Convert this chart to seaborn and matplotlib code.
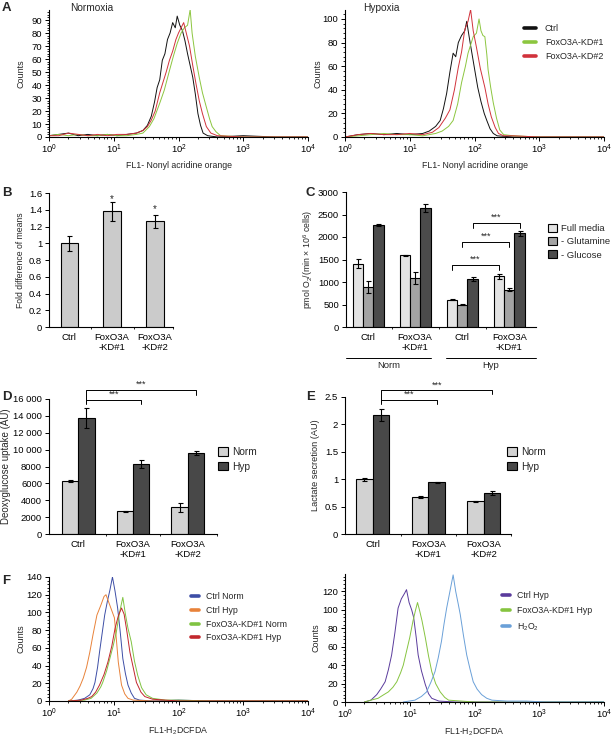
import numpy as np
import pandas as pd
import matplotlib
matplotlib.use('Agg')
import matplotlib.pyplot as plt
from matplotlib.lines import Line2D
from matplotlib.patches import Patch
from matplotlib.container import BarContainer
from matplotlib.ticker import (MultipleLocator, LogLocator, NullFormatter, FixedLocator, FuncFormatter)
import seaborn as sns

# ---------- A: nonyl acridine orange histograms (log10 FL1, counts) ----------
a_norm_ctrl_lx = [0.0, 0.15, 0.3, 0.45, 0.6, 0.75, 0.9, 1.05, 1.2, 1.35, 1.45, 1.52, 1.58, 1.63, 1.67, 1.71, 1.75, 1.79,
                  1.83, 1.87, 1.91, 1.95, 1.98, 2.02, 2.06, 2.10, 2.14, 2.18, 2.22, 2.26, 2.30, 2.34, 2.38, 2.45,
                  2.6, 3.0, 3.5, 4.0]
a_norm_ctrl_ct = [1, 2, 3, 1, 2, 1, 2, 1, 2, 3, 5, 9, 16, 27, 38, 44, 59, 64,
                  75, 80, 88, 84, 93, 86, 82, 74, 64, 55, 46, 33, 18, 9, 3, 1,
                  0, 1, 0, 0]
a_norm_kd1_lx = [0.0, 0.15, 0.3, 0.45, 0.6, 0.75, 0.9, 1.05, 1.2, 1.35, 1.45, 1.55, 1.62, 1.71, 1.78, 1.86, 1.92, 1.98,
                 2.04, 2.09, 2.14, 2.18, 2.21, 2.26, 2.32, 2.37, 2.43, 2.48, 2.52, 2.58, 2.65, 3.0, 4.0]
a_norm_kd1_ct = [1, 2, 1, 2, 1, 1, 2, 1, 1, 2, 3, 8, 14, 26, 36, 51, 62, 72,
                 80, 84, 86, 98, 80, 62, 46, 34, 23, 14, 8, 4, 1, 0, 0]
a_norm_kd2_lx = [0.0, 0.15, 0.3, 0.45, 0.6, 0.75, 0.9, 1.05, 1.2, 1.35, 1.45, 1.52, 1.58, 1.64, 1.71, 1.76, 1.81, 1.86,
                 1.91, 1.96, 2.00, 2.04, 2.08, 2.12, 2.17, 2.22, 2.27, 2.32, 2.37, 2.43, 2.5, 2.6, 3.0, 4.0]
a_norm_kd2_ct = [1, 1, 3, 2, 1, 2, 1, 2, 2, 3, 5, 8, 13, 20, 34, 42, 50, 59,
                 66, 75, 80, 84, 88, 80, 70, 55, 41, 28, 18, 8, 3, 1, 0, 0]

a_hyp_ctrl_lx = [0.0, 0.2, 0.4, 0.6, 0.8, 1.0, 1.2, 1.3, 1.4, 1.47, 1.52, 1.57, 1.62, 1.67, 1.71, 1.75, 1.8, 1.85,
                 1.88, 1.92, 1.96, 2.0, 2.05, 2.1, 2.15, 2.19, 2.24, 2.29, 2.35, 2.6, 3.0, 4.0]
a_hyp_ctrl_ct = [0, 2, 3, 2, 3, 2, 3, 5, 9, 14, 24, 37, 55, 71, 68, 80, 86, 90,
                 98, 84, 71, 58, 42, 30, 20, 14, 7, 3, 1, 0, 0, 0]
a_hyp_kd1_lx = [0.0, 0.2, 0.4, 0.6, 0.8, 1.0, 1.2, 1.4, 1.5, 1.6, 1.67, 1.74, 1.8, 1.86, 1.9, 1.98, 2.03, 2.07,
                2.1, 2.13, 2.16, 2.19, 2.21, 2.25, 2.29, 2.34, 2.39, 2.45, 2.6, 3.0, 4.0]
a_hyp_kd1_ct = [0, 1, 2, 3, 2, 2, 1, 3, 5, 9, 14, 28, 46, 60, 71, 85, 88, 100,
                90, 86, 85, 70, 57, 42, 29, 16, 6, 2, 1, 0, 0]
a_hyp_kd2_lx = [0.0, 0.2, 0.4, 0.6, 0.8, 1.0, 1.2, 1.35, 1.45, 1.55, 1.62, 1.69, 1.75, 1.8, 1.85, 1.9, 1.94, 1.98,
                2.03, 2.09, 2.16, 2.21, 2.26, 2.32, 2.37, 2.45, 2.6, 3.0, 4.0]
a_hyp_kd2_ct = [0, 2, 3, 2, 2, 3, 2, 4, 8, 16, 23, 40, 59, 72, 91, 98, 108, 90,
                76, 58, 42, 28, 17, 8, 3, 1, 1, 0, 0]
a_labels = ['Ctrl', 'FoxO3A-KD#1', 'FoxO3A-KD#2']
a_colors = ['#111111', '#8cc63f', '#d1323b']

# ---------- B: fold difference of means ----------
b_groups = ['Ctrl', 'FoxO3A\n-KD#1', 'FoxO3A\n-KD#2']
b_mean = [1.0, 1.38, 1.26]
b_err = [0.09, 0.11, 0.08]
b_star_y = [None, 1.53, 1.41]

# ---------- C: oxygen consumption ----------
c_groups = ['Ctrl', 'FoxO3A\n-KD#1', 'Ctrl', 'FoxO3A\n-KD#1']
c_cond = ['Norm', 'Norm', 'Hyp', 'Hyp']
c_media = ['Full media', '- Glutamine', '- Glucose']
c_full = [1404, 1596, 610, 1125]
c_full_err = [100, 15, 15, 60]
c_gln = [890, 1088, 500, 830]
c_gln_err = [140, 140, 10, 40]
c_glc = [2265, 2654, 1066, 2080]
c_glc_err = [20, 90, 40, 50]
c_colors = ['#e3e3e3', '#a3a3a3', '#4b4b4b']
# significance brackets: x from, x to (bar slots), height
c_br_x0 = [1.78, 2.0, 2.22]
c_br_x1 = [2.78, 3.0, 3.22]
c_br_y = [1382, 1897, 2316]

# ---------- D / E ----------
de_groups = ['Ctrl', 'FoxO3A\n-KD#1', 'FoxO3A\n-KD#2']
de_conds = ['Norm', 'Hyp']
de_colors = ['#d2d2d2', '#484848']
d_norm = [6245, 2690, 3160]
d_norm_err = [100, 30, 550]
d_hyp = [13750, 8300, 9600]
d_hyp_err = [1200, 450, 200]
e_norm = [1.00, 0.675, 0.596]
e_norm_err = [0.03, 0.02, 0.01]
e_hyp = [2.17, 0.94, 0.75]
e_hyp_err = [0.11, 0.01, 0.03]

# ---------- F: H2DCFDA histograms ----------
f1_cn_lx = [0.3, 0.45, 0.55, 0.63, 0.68, 0.71, 0.75, 0.78, 0.82, 0.86, 0.9, 0.94, 0.98, 1.02, 1.06, 1.1, 1.14, 1.18,
            1.22, 1.27, 1.32, 1.4, 1.6, 2.0, 2.5, 3.0, 4.0]
f1_cn_ct = [0, 1, 3, 7, 14, 21, 38, 55, 76, 97, 112, 125, 140, 124, 105, 78, 48, 31,
            18, 9, 3, 1, 0, 1, 0, 0, 0]
f1_ch_lx = [0.3, 0.35, 0.43, 0.48, 0.53, 0.58, 0.63, 0.68, 0.74, 0.8, 0.85, 0.88, 0.92, 0.96, 1.01, 1.04, 1.07, 1.12,
            1.17, 1.22, 1.3, 1.6, 2.0, 3.0, 4.0]
f1_ch_ct = [0, 2, 10, 17, 26, 38, 55, 75, 97, 108, 118, 120, 112, 104, 94, 70, 44, 18,
            8, 3, 1, 0, 0, 0, 0]
f1_kn_lx = [0.3, 0.55, 0.65, 0.74, 0.8, 0.83, 0.89, 0.94, 0.99, 1.04, 1.09, 1.14, 1.18, 1.22, 1.27, 1.32, 1.37, 1.43,
            1.5, 1.6, 1.8, 2.0, 2.5, 3.0, 4.0]
f1_kn_ct = [0, 1, 3, 9, 16, 21, 34, 48, 62, 78, 100, 117, 98, 82, 67, 45, 29, 15,
            7, 3, 1, 1, 0, 0, 0]
f1_kh_lx = [0.3, 0.5, 0.6, 0.66, 0.72, 0.78, 0.85, 0.91, 0.97, 1.02, 1.07, 1.12, 1.16, 1.2, 1.25, 1.3, 1.35, 1.42,
            1.48, 1.6, 1.8, 2.0, 3.0, 4.0]
f1_kh_ct = [0, 1, 3, 5, 10, 18, 30, 44, 62, 82, 96, 105, 98, 80, 55, 38, 21, 10,
            5, 2, 1, 0, 0, 0]
f1_labels = ['Ctrl Norm', 'Ctrl Hyp', 'FoxO3A-KD#1 Norm', 'FoxO3A-KD#1 Hyp']
f1_colors = ['#3d4ea6', '#e8823a', '#80c342', '#c2272d']

f2_ch_lx = [0.3, 0.4, 0.49, 0.55, 0.62, 0.67, 0.72, 0.77, 0.82, 0.87, 0.92, 0.95, 0.99, 1.03, 1.06, 1.1, 1.13, 1.18,
            1.24, 1.29, 1.34, 1.45, 1.7, 4.0]
f2_ch_ct = [0, 2, 8, 14, 22, 35, 51, 75, 102, 112, 118, 122, 108, 100, 92, 70, 51, 34,
            19, 9, 4, 1, 0, 0]
f2_kh_lx = [0.3, 0.4, 0.51, 0.6, 0.67, 0.74, 0.8, 0.86, 0.9, 0.95, 1.0, 1.05, 1.09, 1.12, 1.15, 1.19, 1.24, 1.29,
            1.34, 1.4, 1.47, 1.54, 1.6, 1.8, 2.0, 4.0]
f2_kh_ct = [0, 2, 4, 8, 11, 16, 22, 32, 40, 55, 70, 88, 100, 108, 100, 88, 70, 50,
            33, 20, 11, 5, 2, 1, 0, 0]
f2_h2o2_lx = [0.9, 1.08, 1.18, 1.26, 1.33, 1.39, 1.44, 1.49, 1.53, 1.57, 1.62, 1.67, 1.71, 1.75, 1.78, 1.83, 1.88,
              1.93, 1.98, 2.04, 2.11, 2.19, 2.27, 2.5, 2.8, 3.1, 4.0]
f2_h2o2_ct = [0, 2, 6, 11, 22, 33, 48, 66, 85, 102, 120, 138, 120, 106, 95, 72, 51,
              36, 22, 14, 8, 4, 2, 1, 1, 0, 0]
f2_labels = ['Ctrl Hyp', 'FoxO3A-KD#1 Hyp', 'H$_2$O$_2$']
f2_colors = ['#5a3b9c', '#86c440', '#6aa0d8']

# ---------------------------------------------------------------------------
sns.set_style('ticks')
plt.rcParams['font.family'] = ['Liberation Sans', 'DejaVu Sans']
plt.rcParams['mathtext.fontset'] = 'custom'
plt.rcParams['mathtext.rm'] = 'Liberation Sans'
plt.rcParams['mathtext.it'] = 'Liberation Sans:italic'
plt.rcParams['font.size'] = 7
plt.rcParams['axes.linewidth'] = 0.8

W, H = 612, 736
fig = plt.figure(figsize=(W / 100, H / 100), dpi=100)


def add_ax(l, t, r, b):
    return fig.add_axes([l / W, 1 - b / H, (r - l) / W, (b - t) / H])


def ftext(x, y, s, **kw):
    fig.text(x / W, 1 - y / H, s, **kw)


def style_common(ax):
    for sp in ['top', 'right']:
        ax.spines[sp].set_visible(False)
    ax.spines['left'].set_color('black')
    ax.spines['bottom'].set_color('black')
    ax.tick_params(which='major', length=3, width=0.7, colors='black', labelsize=6.8, pad=2)
    ax.tick_params(which='minor', length=1.6, width=0.6, colors='black')


def ylab(ax, text, x_px, size):
    # x_px: horizontal centre of the rotated label, in figure pixels
    ax.set_ylabel(text, fontsize=size)
    l = ax.get_position().x0 * W
    w = ax.get_position().width * W
    ax.yaxis.set_label_coords((x_px + size * 0.55 - l) / w, 0.5)


def hist_panel(ax, curves, colors, ymax, ystep, yminor):
    for (lx, ct), c in zip(curves, colors):
        sns.lineplot(x=10 ** np.array(lx), y=ct, ax=ax, color=c, lw=0.7, sort=False, estimator=None)
    ax.set_xscale('log')
    ax.set_xlim(1, 1e4)
    ax.set_ylim(0, ymax)
    ax.xaxis.set_major_locator(LogLocator(base=10, numticks=10))
    ax.xaxis.set_minor_locator(LogLocator(base=10, subs=np.arange(2, 10), numticks=50))
    ax.xaxis.set_minor_formatter(NullFormatter())
    ax.yaxis.set_major_locator(MultipleLocator(ystep))
    ax.yaxis.set_minor_locator(MultipleLocator(yminor))
    style_common(ax)
    ax.tick_params(axis='x', which='major', pad=1)


def line_legend(ax, labels, colors, x, y, spacing, size, hlen, pad):
    handles = [Line2D([], [], color=c, lw=2.6) for c in colors]
    ax.legend(handles, labels, loc='upper left', bbox_to_anchor=(x / W, 1 - y / H),
              bbox_transform=fig.transFigure, frameon=False, fontsize=size, handlelength=hlen,
              handletextpad=pad, labelspacing=spacing, borderpad=0, borderaxespad=0)


def box_legend(ax, labels, colors, x, y, spacing, size):
    handles = [Patch(facecolor=c, edgecolor='black', lw=0.8) for c in colors]
    ax.legend(handles, labels, loc='upper left', bbox_to_anchor=(x / W, 1 - y / H),
              bbox_transform=fig.transFigure, frameon=False, fontsize=size, handlelength=0.95,
              handleheight=0.95, handletextpad=0.4, labelspacing=spacing, borderpad=0, borderaxespad=0)


def add_errors(ax, errs):
    # errs[hue][category]
    bars = [c for c in ax.containers if isinstance(c, BarContainer)]
    for i, cont in enumerate(bars):
        for rect in cont.patches:
            xc = rect.get_x() + rect.get_width() / 2
            j = int(round(xc))
            ax.errorbar(xc, rect.get_height(), yerr=errs[i][j], fmt='none', ecolor='black',
                        elinewidth=0.8, capsize=1.8, capthick=0.8, zorder=5)


def bracket(ax, x0, x1, y, leg0, leg1, txt_dy):
    ax.plot([x0, x0, x1, x1], [y - leg0, y, y, y - leg1], color='black', lw=0.7, clip_on=False)
    ax.text((x0 + x1) / 2, y + txt_dy, '***', ha='center', va='bottom', fontsize=6.5, clip_on=False)


# ---------------- A ----------------
ax = add_ax(49, 10, 308, 137)
hist_panel(ax, [(a_norm_ctrl_lx, a_norm_ctrl_ct), (a_norm_kd1_lx, a_norm_kd1_ct), (a_norm_kd2_lx, a_norm_kd2_ct)],
           a_colors, 97.7, 10, 2)
ax.set_xlabel('FL1- Nonyl acridine orange', fontsize=6.3, labelpad=4)
ylab(ax, 'Counts', 22, 6.5)
ftext(70, 8, 'Normoxia', fontsize=7.3, va='center')

ax = add_ax(345, 10, 604, 137)
hist_panel(ax, [(a_hyp_ctrl_lx, a_hyp_ctrl_ct), (a_hyp_kd1_lx, a_hyp_kd1_ct), (a_hyp_kd2_lx, a_hyp_kd2_ct)],
           a_colors, 107.6, 20, 4)
ax.set_xlabel('FL1- Nonyl acridine orange', fontsize=6.3, labelpad=4)
ylab(ax, 'Counts', 319, 6.5)
ftext(363, 8, 'Hypoxia', fontsize=7.3, va='center')
line_legend(ax, a_labels, a_colors, 524, 24, 0.55, 6.5, 1.3, 1.0)

# ---------------- B ----------------
ax = add_ax(49, 193, 173, 327)
df_b = pd.DataFrame({'group': b_groups, 'fold': b_mean})
sns.barplot(data=df_b, x='group', y='fold', color='#cbcbcb', saturation=1, edgecolor='black',
            linewidth=0.8, width=0.4, errorbar=None, ax=ax)
add_errors(ax, [b_err])
for j, sy in enumerate(b_star_y):
    if sy is not None:
        ax.text(j, sy, '*', ha='center', va='center', fontsize=7)
ax.set_xlim(-0.47, 2.42)
ax.set_ylim(0, 1.6)
ax.yaxis.set_major_locator(MultipleLocator(0.2))
ax.yaxis.set_major_formatter(FuncFormatter(lambda v, p: '%g' % round(v, 1)))
ax.set_xlabel('')
ax.xaxis.set_minor_locator(FixedLocator([0.5, 1.5, 2.42]))
style_common(ax)
ax.tick_params(axis='x', which='major', length=0, pad=4)
ylab(ax, 'Fold difference of means', 22, 6.2)

# ---------------- C ----------------
ax = add_ax(346, 192, 536, 327)
c_keys = [cd + '|' + g for cd, g in zip(c_cond, c_groups)]
df_c = pd.DataFrame({'key': c_keys * 3,
                     'medium': np.repeat(c_media, len(c_keys)),
                     'o2': c_full + c_gln + c_glc})
sns.barplot(data=df_c, x='key', y='o2', hue='medium', hue_order=c_media, palette=c_colors, saturation=1,
            edgecolor='black', linewidth=0.8, width=0.66, errorbar=None, legend=False, ax=ax)
add_errors(ax, [c_full_err, c_gln_err, c_glc_err])
for x0, x1, y in zip(c_br_x0, c_br_x1, c_br_y):
    bracket(ax, x0, x1, y, 110, 110, 30)
ax.set_xlim(-0.47, 3.57)
ax.set_ylim(0, 3000)
ax.yaxis.set_major_locator(MultipleLocator(500))
ax.set_xticks(range(4))
ax.set_xticklabels(c_groups)
ax.xaxis.set_minor_locator(FixedLocator([0.5, 1.5, 2.5]))
ax.set_xlabel('')
style_common(ax)
ax.tick_params(axis='x', which='major', length=0, pad=4)
ylab(ax, 'pmol O$_2$/(min × 10$^6$ cells)', 312, 6.3)
trans = ax.get_xaxis_transform()
for x0, x1, lab in [(-0.47, 1.34, 'Norm'), (1.66, 3.57, 'Hyp')]:
    ax.plot([x0, x1], [-0.23, -0.23], color='black', lw=0.7, transform=trans, clip_on=False)
    ax.text((x0 + x1) / 2, -0.285, lab, ha='center', va='center', fontsize=6.8, transform=trans)
box_legend(ax, c_media, c_colors, 548, 224, 0.4, 6.8)


# ---------------- D ----------------
def de_panel(ax, norm, norm_err, hyp, hyp_err, xlim):
    df = pd.DataFrame({'group': de_groups * 2,
                       'cond': np.repeat(de_conds, len(de_groups)),
                       'val': norm + hyp})
    sns.barplot(data=df, x='group', y='val', hue='cond', hue_order=de_conds, palette=de_colors, saturation=1,
                edgecolor='black', linewidth=0.8, width=0.6, errorbar=None, legend=False, ax=ax)
    add_errors(ax, [norm_err, hyp_err])
    ax.set_xlim(*xlim)
    ax.set_xlabel('')
    ax.xaxis.set_minor_locator(FixedLocator([0.5, 1.5, xlim[1]]))
    style_common(ax)
    ax.tick_params(axis='x', which='major', length=0, pad=4)


ax = add_ax(49, 399, 217, 534)
de_panel(ax, d_norm, d_norm_err, d_hyp, d_hyp_err, (-0.53, 2.53))
ax.set_ylim(0, 16000)
ax.yaxis.set_major_locator(MultipleLocator(2000))
ax.yaxis.set_major_formatter(FuncFormatter(
    lambda v, p: ('%d %03d' % (v // 1000, v % 1000)) if v >= 10000 else '%d' % v))
ylab(ax, 'Deoxyglucose uptake (AU)', 7, 7.0)
bracket(ax, 0.15, 1.15, 15900, 550, 550, 150)
bracket(ax, 0.15, 2.15, 17050, 1500, 600, 150)
box_legend(ax, de_conds, de_colors, 218, 447, 0.45, 7.3)

# ---------------- E ----------------
ax = add_ax(345, 397, 511, 534)
de_panel(ax, e_norm, e_norm_err, e_hyp, e_hyp_err, (-0.5, 2.49))
ax.set_ylim(0, 2.5)
ax.yaxis.set_major_locator(MultipleLocator(0.5))
ax.yaxis.set_major_formatter(FuncFormatter(lambda v, p: '%g' % round(v, 1)))
ylab(ax, 'Lactate secretion (AU)', 316, 6.6)
bracket(ax, 0.15, 1.15, 2.45, 0.08, 0.08, 0.02)
bracket(ax, 0.15, 2.15, 2.62, 0.22, 0.07, 0.02)
box_legend(ax, de_conds, de_colors, 507, 447, 0.45, 7.3)

# ---------------- F ----------------
ax = add_ax(49, 577, 308, 701)
hist_panel(ax, [(f1_cn_lx, f1_cn_ct), (f1_ch_lx, f1_ch_ct), (f1_kn_lx, f1_kn_ct), (f1_kh_lx, f1_kh_ct)],
           f1_colors, 140, 20, 4)
ax.set_xlabel('FL1-H$_2$DCFDA', fontsize=6.3, labelpad=3)
ylab(ax, 'Counts', 22, 6.5)
line_legend(ax, f1_labels, f1_colors, 191, 592, 0.55, 6.3, 0.95, 0.8)

ax = add_ax(345, 574, 604, 702)
hist_panel(ax, [(f2_ch_lx, f2_ch_ct), (f2_kh_lx, f2_kh_ct), (f2_h2o2_lx, f2_h2o2_ct)],
           f2_colors, 139, 20, 4)
ax.set_yticks(range(0, 140, 20))
ax.set_xlabel('FL1-H$_2$DCFDA', fontsize=6.3, labelpad=3)
ylab(ax, 'Counts', 317, 6.5)
line_legend(ax, f2_labels, f2_colors, 502, 591, 0.7, 6.3, 0.95, 0.8)

# panel letters
for x, y, s in [(2, 8, 'A'), (2, 193, 'B'), (306, 193, 'C'), (2, 397, 'D'), (306, 397, 'E'), (2, 581, 'F')]:
    ftext(x, y, s, fontsize=9.5, fontweight='bold', va='center')

fig.savefig('out.png', dpi=100, facecolor='white')
